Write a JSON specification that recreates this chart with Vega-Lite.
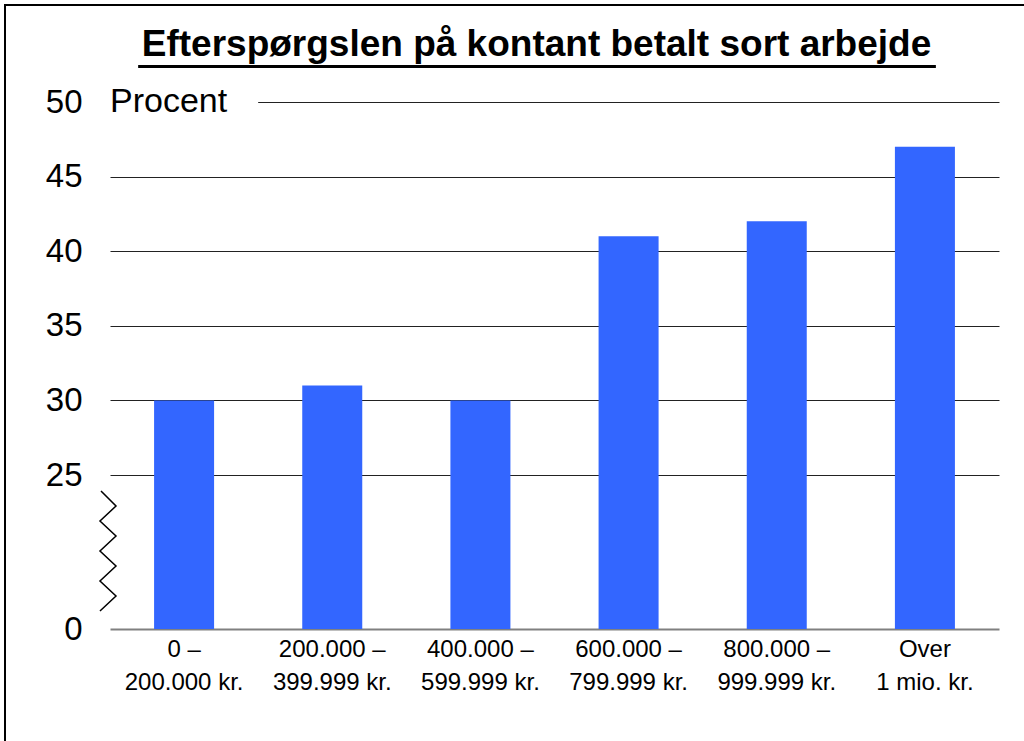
{
  "$schema": "https://vega.github.io/schema/vega-lite/v6.json",
  "width": 1021,
  "height": 738,
  "autosize": "none",
  "padding": {"left": 5, "top": 5, "right": -2, "bottom": -2},
  "background": "white",
  "config": {
    "view": {"stroke": "black", "strokeWidth": 2},
    "font": "Liberation Sans"
  },
  "title": {
    "text": "Efterspørgslen på kontant betalt sort arbejde",
    "font": "Liberation Sans",
    "fontSize": 37,
    "fontWeight": "bold",
    "anchor": "middle",
    "baseline": "alphabetic",
    "offset": -88,
    "dx": 21,
    "color": "black"
  },
  "datasets": {
    "bars": [
      {"cat": "0 –|200.000 kr.", "value": 30},
      {"cat": "200.000 –|399.999 kr.", "value": 31},
      {"cat": "400.000 –|599.999 kr.", "value": 30},
      {"cat": "600.000 –|799.999 kr.", "value": 41},
      {"cat": "800.000 –|999.999 kr.", "value": 42},
      {"cat": "Over|1 mio. kr.", "value": 47}
    ],
    "notes": [{"text": "Procent", "cat": "0 –|200.000 kr.", "y": 50, "y0": 49.5, "y1": 50.5}],
    "brk": [{"cat": "0 –|200.000 kr.", "y": 12.66}],
    "ul": [{"from": "0 –|200.000 kr.", "y": 52.38}]
  },
  "layer": [
    {
      "data": {"name": "bars"},
      "mark": {"type": "bar", "width": {"band": 0.405}, "color": "#3366FF"},
      "encoding": {
        "x": {
          "field": "cat", "type": "nominal", "sort": null,
          "scale": {
            "domain": ["0 –|200.000 kr.", "200.000 –|399.999 kr.", "400.000 –|599.999 kr.", "600.000 –|799.999 kr.", "800.000 –|999.999 kr.", "Over|1 mio. kr."],
            "range": [105, 994], "paddingInner": 0, "paddingOuter": 0
          },
          "axis": {
            "title": null, "orient": "bottom", "offset": -114,
            "domainColor": "#808080", "domainWidth": 2, "ticks": false,
            "labelExpr": "split(datum.value, '|')",
            "labelFont": "Liberation Sans", "labelFontSize": 24,
            "labelColor": "black", "labelPadding": 8, "labelLineHeight": 33,
            "labelAngle": 0, "grid": false
          }
        },
        "y": {
          "field": "value", "type": "quantitative",
          "scale": {"domain": [0, 25, 50], "range": [624, 470, 97], "nice": false, "zero": false},
          "axis": {
            "title": null, "values": [0, 25, 30, 35, 40, 45, 50],
            "offset": -77, "ticks": false, "domain": false,
            "labelFont": "Liberation Sans", "labelFontSize": 33, "labelColor": "black",
            "labelPadding": 0, "grid": true, "gridColor": "#222", "gridWidth": 1,
            "gridOpacity": {"condition": {"test": "datum.value === 0", "value": 0}, "value": 1}
          }
        }
      }
    },
    {
      "data": {"name": "notes"},
      "mark": {"type": "bar", "color": "white"},
      "encoding": {
        "x": {"field": "cat", "type": "nominal"},
        "y": {"field": "y0", "type": "quantitative"},
        "y2": {"field": "y1"}
      }
    },
    {
      "data": {"name": "notes"},
      "mark": {"type": "text", "align": "left", "baseline": "middle", "fontSize": 34, "font": "Liberation Sans", "color": "black"},
      "encoding": {
        "x": {"field": "cat", "type": "nominal", "bandPosition": 0},
        "y": {"field": "y", "type": "quantitative"},
        "text": {"field": "text"}
      }
    },
    {
      "data": {"name": "brk"},
      "mark": {
        "type": "point", "filled": false, "stroke": "black", "strokeWidth": 1.5, "opacity": 1,
        "shape": "M-0.15,-1L0.1,-0.75L-0.167,-0.5L0.1,-0.25L-0.167,0L0.1,0.25L-0.167,0.5L0.1,0.75L-0.167,1",
        "size": 14400
      },
      "encoding": {
        "x": {"field": "cat", "type": "nominal", "bandPosition": 0},
        "y": {"field": "y", "type": "quantitative"}
      }
    },
    {
      "data": {"name": "ul"},
      "mark": {"type": "rule", "color": "black", "strokeWidth": 3},
      "encoding": {
        "x": {"field": "from", "type": "nominal", "bandPosition": 0.19},
        "x2": {"datum": "Over|1 mio. kr.", "bandPosition": 0.574},
        "y": {"field": "y", "type": "quantitative"}
      }
    }
  ]
}
